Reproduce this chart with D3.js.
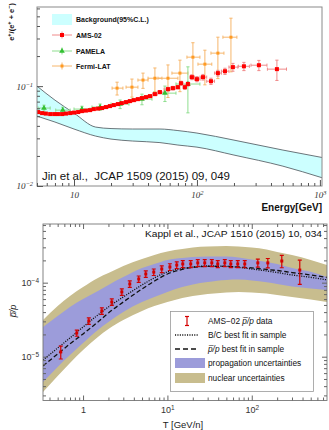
<!DOCTYPE html>
<html lang="en">
<head>
<meta charset="utf-8">
<title>Positron fraction and antiproton ratio</title>
<script src="https://cdn.jsdelivr.net/npm/d3@7"></script>
<style>
  body { margin: 0; background: #fff; }
  svg { display: block; font-family: "Liberation Sans", Arial, sans-serif; }
  .pre { white-space: pre; }
</style>
</head>
<body>
<script>
// ---------- top panel: e+/(e+ + e-) ----------
const bgE  = [5, 7, 10, 15, 20, 30, 50, 70, 100, 200, 500, 1040];
const bgHi = [0.100, 0.0724, 0.0537, 0.0389, 0.0376, 0.0372, 0.0372, 0.0359, 0.0339, 0.0288, 0.0229, 0.0193];
const bgLo = [0.0501, 0.0437, 0.0372, 0.0316, 0.0295, 0.0282, 0.0272, 0.0257, 0.0245, 0.0204, 0.0158, 0.0121];

// E, E low, E high, value, error
const ams = [
  [5.1, 4.9, 5.3, 0.0550, 0.0008], [5.5, 5.3, 5.7, 0.0537, 0.0008], [5.9, 5.7, 6.1, 0.0531, 0.0008],
  [6.4, 6.1, 6.6, 0.0525, 0.0008], [6.9, 6.6, 7.1, 0.0525, 0.0008], [7.4, 7.1, 7.7, 0.0525, 0.0008],
  [8.0, 7.7, 8.3, 0.0525, 0.0008], [8.6, 8.3, 8.9, 0.0531, 0.0009], [9.3, 8.9, 9.6, 0.0537, 0.0009],
  [10.0, 9.6, 10.4, 0.0543, 0.0009], [10.8, 10.4, 11.2, 0.0550, 0.0009], [11.6, 11.2, 12.0, 0.0562, 0.0010],
  [12.5, 12.0, 13.0, 0.0569, 0.0010], [13.5, 13.0, 14.0, 0.0575, 0.0010], [14.5, 14.0, 15.1, 0.0589, 0.0011],
  [15.7, 15.1, 16.3, 0.0596, 0.0011], [16.9, 16.3, 17.5, 0.0603, 0.0012], [18.2, 17.5, 18.9, 0.0617, 0.0012],
  [19.6, 18.9, 20.3, 0.0631, 0.0013], [21.1, 20.3, 21.9, 0.0646, 0.0014], [22.8, 21.9, 23.6, 0.0661, 0.0015],
  [24.5, 23.6, 25.5, 0.0676, 0.0016], [26.5, 25.5, 27.5, 0.0692, 0.0017], [28.5, 27.5, 29.6, 0.0708, 0.0018],
  [30.7, 29.6, 31.9, 0.0724, 0.0019], [33.1, 31.9, 34.4, 0.0741, 0.0020], [35.7, 34.4, 37.1, 0.0759, 0.0022],
  [38.5, 37.1, 40.0, 0.0776, 0.0024], [41.5, 40.0, 43.5, 0.0794, 0.0026], [45.5, 43.5, 47.7, 0.0832, 0.0028],
  [50.0, 47.7, 54.0, 0.0871, 0.0030], [58.1, 54.0, 61.0, 0.0933, 0.0040], [63.8, 61.0, 67.0, 0.0955, 0.0040],
  [70.0, 67.0, 72.0, 0.0977, 0.0040], [74.1, 72.0, 77.0, 0.107, 0.0050], [79.8, 77.0, 82.0, 0.0977, 0.0050],
  [84.4, 82.0, 87.5, 0.105, 0.0050], [91.0, 87.5, 95.5, 0.123, 0.0070], [100, 95.5, 106, 0.1175, 0.0070],
  [112, 106, 120, 0.123, 0.0080], [130, 120, 139, 0.112, 0.0080], [148, 139, 158, 0.135, 0.0090],
  [169, 158, 182, 0.141, 0.010], [196, 182, 215, 0.155, 0.014], [241, 217, 267, 0.158, 0.015],
  [319, 275, 371, 0.162, 0.019], [447, 374, 535, 0.148, 0.034]
];
const pamela = [
  [5.7, 5.1, 6.4, 0.0603, 0.0042], [8.1, 7.1, 9.3, 0.0575, 0.0040], [11.6, 10.0, 13.5, 0.0589, 0.0040],
  [16.3, 14.0, 18.9, 0.0617, 0.0045], [23.7, 20.0, 28.0, 0.0661, 0.0065], [35.7, 29.6, 43.1, 0.0741, 0.0090],
  [54.9, 44.7, 67.5, 0.0851, 0.015], [84.4, 67.5, 105.7, 0.105, 0.051]
];
const fermi = [
  [22.4, 20.4, 25.0, 0.0955, 0.014], [29.6, 26.5, 33.1, 0.0977, 0.020], [36.4, 33.1, 40.0, 0.115, 0.020],
  [45.5, 40.0, 51.9, 0.120, 0.032], [58.1, 48.2, 70.0, 0.120, 0.043], [72.7, 62.6, 84.4, 0.135, 0.047],
  [92.7, 82.9, 105.7, 0.195, 0.077], [116, 101.9, 132, 0.166, 0.063], [148, 130, 165.7, 0.214, 0.095],
  [189, 162.6, 211.3, 0.309, 0.17]
];

// ---------- bottom panel: pbar/p ----------
const curveT  = [0.335, 0.5, 0.7, 1, 1.5, 2, 3, 5, 7, 10, 15, 20, 30, 50, 70, 100, 150, 200, 300, 500, 780];
const nucHi   = [3.13e-5, 4.84e-5, 6.61e-5, 8.75e-5, 1.16e-4, 1.35e-4, 1.68e-4, 2.09e-4, 2.37e-4, 2.64e-4, 2.85e-4, 2.99e-4, 3.08e-4, 3.13e-4, 3.08e-4, 2.99e-4, 2.81e-4, 2.60e-4, 2.37e-4, 2.03e-4, 1.73e-4];
const nucLo   = [3.33e-6, 5.48e-6, 8.22e-6, 1.23e-5, 1.85e-5, 2.37e-5, 3.13e-5, 4.15e-5, 4.84e-5, 5.48e-5, 6.21e-5, 6.61e-5, 7.03e-5, 7.37e-5, 7.49e-5, 7.37e-5, 7.15e-5, 6.82e-5, 6.41e-5, 5.93e-5, 5.48e-5];
const propHi  = [2.52e-5, 3.55e-5, 4.70e-5, 6.03e-5, 7.73e-5, 9.31e-5, 1.19e-4, 1.58e-4, 1.79e-4, 2.03e-4, 2.16e-4, 2.22e-4, 2.26e-4, 2.26e-4, 2.19e-4, 2.06e-4, 1.90e-4, 1.79e-4, 1.58e-4, 1.40e-4, 1.19e-4];
const propLo  = [4.55e-6, 7.26e-6, 1.05e-5, 1.53e-5, 2.30e-5, 2.94e-5, 4.02e-5, 5.48e-5, 6.41e-5, 7.49e-5, 8.75e-5, 9.46e-5, 1.02e-4, 1.09e-4, 1.10e-4, 1.07e-4, 1.01e-4, 9.60e-5, 8.88e-5, 8.35e-5, 7.97e-5];
const fitBC   = [9.02e-6, 1.31e-5, 1.79e-5, 2.52e-5, 3.66e-5, 4.70e-5, 6.41e-5, 9.31e-5, 1.16e-4, 1.40e-4, 1.56e-4, 1.63e-4, 1.68e-4, 1.66e-4, 1.61e-4, 1.53e-4, 1.44e-4, 1.37e-4, 1.27e-4, 1.18e-4, 1.09e-4];
const fitPbar = [7.49e-6, 1.09e-5, 1.49e-5, 2.03e-5, 2.94e-5, 3.90e-5, 5.48e-5, 8.22e-5, 1.05e-4, 1.31e-4, 1.51e-4, 1.61e-4, 1.66e-4, 1.66e-4, 1.63e-4, 1.58e-4, 1.51e-4, 1.46e-4, 1.37e-4, 1.27e-4, 1.18e-4];

const pbarT   = [0.544, 0.842, 1.17, 1.67, 2.19, 2.88, 3.58, 4.57, 5.54, 6.89, 8.57, 10.7, 12.9, 15.2, 18.9, 22.9, 27.7, 33.6, 39.5, 47.9, 56.4, 68.2, 82.6, 118, 155, 227, 371];
const pbarV   = [1.16e-5, 2.09e-5, 3.04e-5, 4.15e-5, 5.48e-5, 7.49e-5, 9.6e-5, 1.12e-4, 1.31e-4, 1.39e-4, 1.53e-4, 1.63e-4, 1.73e-4, 1.79e-4, 1.79e-4, 1.85e-4, 1.85e-4, 1.85e-4, 1.79e-4, 1.85e-4, 1.79e-4, 1.79e-4, 1.79e-4, 1.85e-4, 1.85e-4, 1.96e-4, 1.48e-4];
const pbarErr = [0.23e-5, 0.2e-5, 0.3e-5, 0.42e-5, 0.55e-5, 0.75e-5, 0.95e-5, 1.1e-5, 1.3e-5, 1.4e-5, 1.6e-5, 1.7e-5, 1.8e-5, 1.9e-5, 1.9e-5, 2.0e-5, 2.0e-5, 2.0e-5, 1.9e-5, 2.0e-5, 1.9e-5, 1.9e-5, 2.0e-5, 2.3e-5, 2.7e-5, 3.7e-5, 5.3e-5];

const svg = d3.select("body").append("svg").attr("width", 329).attr("height", 430);
const defs = svg.append("defs");

const isPow10 = t => Math.abs(Math.log10(t) - Math.round(Math.log10(t))) < 1e-9;

// power-of-ten labels as text + superscript
function powLabels(g, fmt) {
    g.selectAll(".tick text").each(function (d) {
        const t = d3.select(this).text("");
        const p = fmt(Math.round(Math.log10(d)));
        t.append("tspan").text(p[0]);
        if (p[1]) t.append("tspan").attr("dy", "-0.45em").attr("font-size", "0.72em").text(p[1]);
    });
}

// minor + major ticks pointing inwards
function ticks(parent, axisFn, scale, pos, majLen, minLen, color) {
    const all = scale.ticks();
    const g = parent.append("g").attr("transform", pos).attr("color", color);
    g.append("g").call(axisFn(scale).tickValues(all.filter(t => !isPow10(t)))
        .tickSizeInner(-minLen).tickSizeOuter(0).tickFormat(""))
        .call(s => s.select(".domain").remove());
    const maj = g.append("g").call(axisFn(scale).tickValues(all.filter(isPow10))
        .tickSizeInner(-majLen).tickSizeOuter(0).tickPadding(4))
        .call(s => s.select(".domain").remove());
    return maj;
}

function errBars(g, rows, x, y, color, cap) {
    const eb = g.append("g").attr("stroke", color).attr("stroke-width", 1).attr("fill", "none");
    eb.selectAll(null).data(rows).join("line")
        .attr("x1", d => x(d[1])).attr("x2", d => x(d[2]))
        .attr("y1", d => y(d[3])).attr("y2", d => y(d[3]));
    eb.selectAll(null).data(rows).join("line")
        .attr("x1", d => x(d[0])).attr("x2", d => x(d[0]))
        .attr("y1", d => y(d[3] - d[4])).attr("y2", d => y(d[3] + d[4]));
    eb.selectAll(null).data(rows.flatMap(d => [[d[0], d[3] - d[4]], [d[0], d[3] + d[4]]])).join("line")
        .attr("x1", d => x(d[0]) - cap).attr("x2", d => x(d[0]) + cap)
        .attr("y1", d => y(d[1])).attr("y2", d => y(d[1]));
    eb.selectAll(null).data(rows.flatMap(d => [[d[1], d[3]], [d[2], d[3]]])).join("line")
        .attr("x1", d => x(d[0])).attr("x2", d => x(d[0]))
        .attr("y1", d => y(d[1]) - cap).attr("y2", d => y(d[1]) + cap);
}

// ================= TOP PANEL =================
const xT = d3.scaleLog().domain([5, 1040]).range([37, 322]);
const yT = d3.scaleLog().domain([0.01, 0.62]).range([186, 7]);
defs.append("clipPath").attr("id", "clipTop").append("rect").attr("x", 37).attr("y", 7).attr("width", 285).attr("height", 179);

const topG = svg.append("g");
const plotT = topG.append("g").attr("clip-path", "url(#clipTop)");
const band = bgE.map((e, i) => ({ e: e, lo: bgLo[i], hi: bgHi[i] }));
plotT.append("path").datum(band).attr("fill", "#ccffff")
    .attr("d", d3.area().x(d => xT(d.e)).y0(d => yT(d.lo)).y1(d => yT(d.hi)).curve(d3.curveMonotoneX));
["hi", "lo"].forEach(k => {
    plotT.append("path").datum(band).attr("fill", "none").attr("stroke", "#4a5258").attr("stroke-width", 0.8)
        .attr("d", d3.line().x(d => xT(d.e)).y(d => yT(d[k])).curve(d3.curveMonotoneX));
});

errBars(plotT, fermi, xT, yT, "#f6b66c", 1.6);
errBars(plotT, pamela, xT, yT, "#8fde8f", 1.6);
errBars(plotT, ams, xT, yT, "#f08a8a", 1.6);

plotT.append("g").selectAll(null).data(fermi).join("rect")
    .attr("x", d => xT(d[0]) - 1.5).attr("y", d => yT(d[3]) - 1.5).attr("width", 3).attr("height", 3).attr("fill", "#ff9a22");
plotT.append("g").selectAll(null).data(pamela).join("path")
    .attr("transform", d => `translate(${xT(d[0])},${yT(d[3])})`)
    .attr("d", d3.symbol(d3.symbolTriangle, 14)).attr("fill", "#33c033");
plotT.append("g").selectAll(null).data(ams).join("rect")
    .attr("x", d => xT(d[0]) - 2).attr("y", d => yT(d[3]) - 2).attr("width", 4).attr("height", 4).attr("fill", "#ff0000");

topG.append("rect").attr("x", 37).attr("y", 7).attr("width", 285).attr("height", 179)
    .attr("fill", "none").attr("stroke", "#8a8a8a").attr("stroke-width", 1);

const txAx = ticks(topG, d3.axisBottom, xT, "translate(0,186)", 6, 3, "#555");
txAx.selectAll(".tick text").attr("font-family", "Liberation Serif").attr("font-style", "italic")
    .attr("font-size", 9).attr("fill", "#333").attr("dy", "0.9em");
powLabels(txAx, p => p === 1 ? ["10"] : ["10", String(p)]);
const tyAx = ticks(topG, d3.axisLeft, yT, "translate(37,0)", 6, 3, "#555");
tyAx.selectAll(".tick text").attr("font-family", "Liberation Serif").attr("font-style", "italic")
    .attr("font-size", 9).attr("fill", "#333");
powLabels(tyAx, p => ["10", String(p).replace("-", "\u2212")]);

topG.append("text").attr("x", 42).attr("y", 179.5).attr("class", "pre").attr("font-size", 10).attr("fill", "#111")
    .attr("textLength", 188).attr("lengthAdjust", "spacingAndGlyphs")
    .text("Jin et al.,  JCAP 1509 (2015) 09, 049");
topG.append("text").attr("x", 322).attr("y", 211).attr("text-anchor", "end").attr("font-size", 10)
    .attr("font-weight", "bold").attr("fill", "#111").text("Energy[GeV]");

const eLab = topG.append("text").attr("transform", "translate(14,3) rotate(-90)").attr("text-anchor", "end")
    .attr("font-size", 7.5).attr("font-weight", "bold").attr("fill", "#111");
eLab.append("tspan").text("e");
eLab.append("tspan").attr("dy", -3).attr("font-size", 5.5).text("+");
eLab.append("tspan").attr("dy", 3).text("/(e");
eLab.append("tspan").attr("dy", -3).attr("font-size", 5.5).text("+");
eLab.append("tspan").attr("dy", 3).text(" + e");
eLab.append("tspan").attr("dy", -3).attr("font-size", 5.5).text("\u2212");
eLab.append("tspan").attr("dy", 3).text(")");

// top legend
const legT = topG.append("g").attr("font-size", 7).attr("font-weight", "bold").attr("fill", "#111");
legT.append("rect").attr("x", 52).attr("y", 14).attr("width", 20).attr("height", 11).attr("fill", "#ccffff");
legT.append("text").attr("x", 76).attr("y", 22).text("Background(95%C.L.)");
const legRows = [
    { y: 35, name: "AMS-02", bar: "#f08a8a", mark: "#ff0000", sym: "sq" },
    { y: 51, name: "PAMELA", bar: "#8fde8f", mark: "#33c033", sym: "tri" },
    { y: 66, name: "Fermi-LAT", bar: "#f6b66c", mark: "#ff9a22", sym: "sq3" }
];
legRows.forEach(r => {
    legT.append("line").attr("x1", 52).attr("x2", 72).attr("y1", r.y).attr("y2", r.y).attr("stroke", r.bar);
    legT.append("line").attr("x1", 62).attr("x2", 62).attr("y1", r.y - 3.5).attr("y2", r.y + 3.5).attr("stroke", r.bar);
    if (r.sym === "tri") {
        legT.append("path").attr("transform", `translate(62,${r.y})`).attr("d", d3.symbol(d3.symbolTriangle, 14)).attr("fill", r.mark);
    } else {
        const s = r.sym === "sq" ? 4 : 3;
        legT.append("rect").attr("x", 62 - s / 2).attr("y", r.y - s / 2).attr("width", s).attr("height", s).attr("fill", r.mark);
    }
    legT.append("text").attr("x", 76).attr("y", r.y + 2.5).text(r.name);
});

// ================= BOTTOM PANEL =================
const xB = d3.scaleLog().domain([0.335, 780]).range([43, 327]);
const yB = d3.scaleLog().domain([2.56e-6, 6.2e-4]).range([400.5, 224]);
defs.append("clipPath").attr("id", "clipBot").append("rect").attr("x", 43).attr("y", 224).attr("width", 284).attr("height", 176.5);

const botG = svg.append("g");
const plotB = botG.append("g").attr("clip-path", "url(#clipBot)");
const model = curveT.map((t, i) => ({ t: t, nh: nucHi[i], nl: nucLo[i], ph: propHi[i], pl: propLo[i], bc: fitBC[i], pp: fitPbar[i] }));
const areaB = (lo, hi) => d3.area().x(d => xB(d.t)).y0(d => yB(d[lo])).y1(d => yB(d[hi])).curve(d3.curveMonotoneX);
const lineB = k => d3.line().x(d => xB(d.t)).y(d => yB(d[k])).curve(d3.curveMonotoneX);
const khaki = "#c8bd8e", lilac = "#9c9cda";
plotB.append("path").datum(model).attr("fill", khaki).attr("d", areaB("nl", "nh"));
plotB.append("path").datum(model).attr("fill", lilac).attr("d", areaB("pl", "ph"));
plotB.append("path").datum(model).attr("fill", "none").attr("stroke", "#111").attr("stroke-width", 1.3)
    .attr("stroke-dasharray", "1.1,1.3").attr("d", lineB("bc"));
plotB.append("path").datum(model).attr("fill", "none").attr("stroke", "#111").attr("stroke-width", 1.3)
    .attr("stroke-dasharray", "4.5,2.5").attr("d", lineB("pp"));

const pts = pbarT.map((t, i) => ({ t: t, v: pbarV[i], e: pbarErr[i] }));
const pg = plotB.append("g").attr("stroke", "#d40000").attr("stroke-width", 1.2);
pg.selectAll(null).data(pts).join("line")
    .attr("x1", d => xB(d.t)).attr("x2", d => xB(d.t)).attr("y1", d => yB(d.v - d.e)).attr("y2", d => yB(d.v + d.e));
pg.selectAll(null).data(pts.flatMap(d => [[d.t, d.v - d.e], [d.t, d.v + d.e]])).join("line")
    .attr("x1", d => xB(d[0]) - 2).attr("x2", d => xB(d[0]) + 2).attr("y1", d => yB(d[1])).attr("y2", d => yB(d[1]));
plotB.append("g").selectAll(null).data(pts).join("rect")
    .attr("x", d => xB(d.t) - 1.5).attr("y", d => yB(d.v) - 1.5).attr("width", 3).attr("height", 3).attr("fill", "#d40000");

botG.append("rect").attr("x", 43).attr("y", 224).attr("width", 284).attr("height", 176.5)
    .attr("fill", "none").attr("stroke", "#777").attr("stroke-width", 0.9);

const bxAx = ticks(botG, d3.axisBottom, xB, "translate(0,400.5)", 5, 3, "#666");
bxAx.selectAll(".tick text").attr("font-size", 9).attr("fill", "#333").attr("dy", "0.95em");
powLabels(bxAx, p => p === 0 ? ["1"] : ["10", String(p)]);
const byAx = ticks(botG, d3.axisLeft, yB, "translate(43,0)", 5, 3, "#666");
byAx.selectAll(".tick text").attr("font-size", 9).attr("fill", "#333");
powLabels(byAx, p => ["10", String(p).replace("-", "\u2212")]);
ticks(botG, d3.axisTop, xB, "translate(0,224)", 5, 3, "#666").selectAll(".tick text").remove();
ticks(botG, d3.axisRight, yB, "translate(327,0)", 5, 3, "#666").selectAll(".tick text").remove();

botG.append("text").attr("x", 183).attr("y", 428).attr("text-anchor", "middle").attr("font-size", 9.5)
    .attr("fill", "#222").text("T [GeV/n]");
botG.append("text").attr("x", 322).attr("y", 237).attr("text-anchor", "end").attr("font-size", 9)
    .attr("fill", "#111").attr("textLength", 177).attr("lengthAdjust", "spacingAndGlyphs")
    .text("Kappl et al., JCAP 1510 (2015) 10, 034");
botG.append("text").attr("transform", "translate(16,311) rotate(-90)").attr("text-anchor", "middle")
    .attr("font-size", 9).attr("font-style", "italic").attr("fill", "#222").text("p\u0305/p");

// bottom legend
const legB = botG.append("g").attr("font-size", 8.3).attr("fill", "#111");
legB.append("rect").attr("x", 170.5).attr("y", 311.5).attr("width", 143).attr("height", 80)
    .attr("fill", "#fff").attr("stroke", "#999").attr("stroke-width", 0.8);
legB.append("line").attr("x1", 187).attr("x2", 187).attr("y1", 316.5).attr("y2", 325.5).attr("stroke", "#d40000").attr("stroke-width", 1.2);
[316.5, 325.5].forEach(y => legB.append("line").attr("x1", 185).attr("x2", 189).attr("y1", y).attr("y2", y)
    .attr("stroke", "#d40000").attr("stroke-width", 1.2));
const t1 = legB.append("text").attr("x", 208).attr("y", 324);
t1.append("tspan").text("AMS\u221202 ");
t1.append("tspan").attr("font-style", "italic").text("p\u0305/p");
t1.append("tspan").text(" data");
legB.append("line").attr("x1", 175).attr("x2", 198).attr("y1", 335).attr("y2", 335).attr("stroke", "#111")
    .attr("stroke-width", 1.3).attr("stroke-dasharray", "1.1,1.3");
legB.append("text").attr("x", 208).attr("y", 338).text("B/C best fit in sample");
legB.append("line").attr("x1", 175).attr("x2", 198).attr("y1", 349).attr("y2", 349).attr("stroke", "#111")
    .attr("stroke-width", 1.5).attr("stroke-dasharray", "5,3");
const t3 = legB.append("text").attr("x", 208).attr("y", 352);
t3.append("tspan").attr("font-style", "italic").text("p\u0305/p");
t3.append("tspan").text(" best fit in sample");
legB.append("rect").attr("x", 175).attr("y", 358).attr("width", 30).attr("height", 10).attr("fill", lilac);
legB.append("text").attr("x", 208).attr("y", 366).text("propagation uncertainties");
legB.append("rect").attr("x", 175).attr("y", 373).attr("width", 30).attr("height", 10).attr("fill", khaki);
legB.append("text").attr("x", 208).attr("y", 381).text("nuclear uncertainties");
</script>
</body>
</html>
